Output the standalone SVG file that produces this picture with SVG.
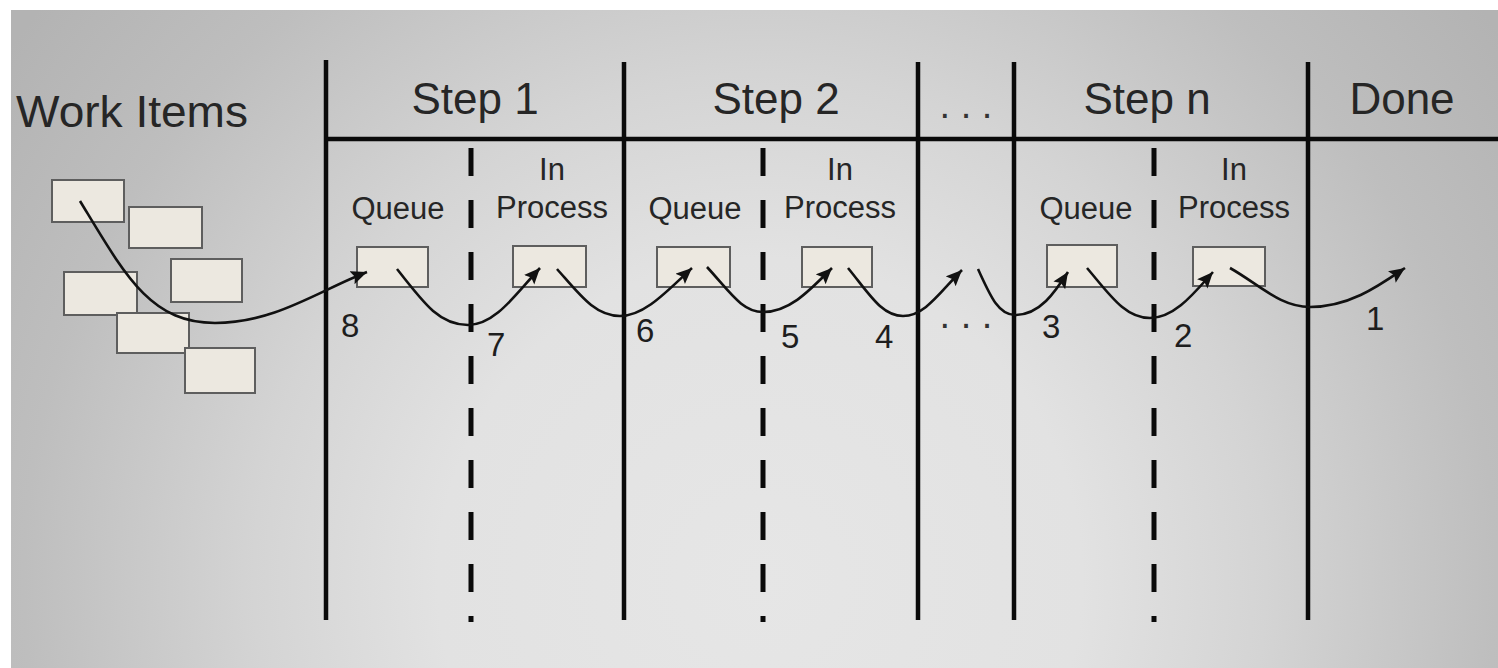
<svg xmlns="http://www.w3.org/2000/svg" width="1498" height="668" viewBox="0 0 1498 668">
<defs>
<radialGradient id="bg" gradientUnits="userSpaceOnUse" cx="760" cy="580" r="920">
<stop offset="0" stop-color="#e6e6e6"/>
<stop offset="0.35" stop-color="#e2e2e2"/>
<stop offset="0.55" stop-color="#d4d4d4"/>
<stop offset="0.8" stop-color="#bebebe"/>
<stop offset="1" stop-color="#b3b3b3"/>
</radialGradient>
<marker id="arr" markerUnits="userSpaceOnUse" markerWidth="20" markerHeight="16" refX="16" refY="7" orient="auto">
<path d="M0,0 L16,7 L0,14 L3,7 z" fill="#111"/>
</marker>
<style>
.ln{stroke:#0a0a0a;stroke-width:4.5;fill:none}
.dl{stroke:#0a0a0a;stroke-width:5;fill:none;stroke-dasharray:28 24}
.box{fill:#ece8e0;stroke:#5e5e5e;stroke-width:2}
.cv{fill:none;stroke:#111;stroke-width:2.6;marker-end:url(#arr)}
.hd{font-family:"Liberation Sans",Arial,sans-serif;font-size:44px;fill:#262626}
.sb{font-family:"Liberation Sans",Arial,sans-serif;font-size:31px;fill:#262626;text-anchor:middle}
.nm{font-family:"Liberation Sans",Arial,sans-serif;font-size:33px;fill:#1e1e1e}
.dt{font-family:"Liberation Sans",Arial,sans-serif;font-size:38px;fill:#333;text-anchor:middle}
</style>
</defs>
<rect x="0" y="0" width="1498" height="668" fill="#ffffff"/>
<rect x="11" y="10" width="1487" height="658" fill="url(#bg)"/>

<g id="grid">
<line class="ln" x1="324" y1="139" x2="1498" y2="139"/>
<line class="ln" x1="326" y1="60" x2="326" y2="620"/>
<line class="ln" x1="624" y1="62" x2="624" y2="620"/>
<line class="ln" x1="918" y1="62" x2="918" y2="620"/>
<line class="ln" x1="1014" y1="62" x2="1014" y2="620"/>
<line class="ln" x1="1308" y1="62" x2="1308" y2="620"/>
<line class="dl" x1="471" y1="148" x2="471" y2="622"/>
<line class="dl" x1="763" y1="148" x2="763" y2="622"/>
<line class="dl" x1="1154" y1="148" x2="1154" y2="622"/>
</g>

<g id="headers">
<text class="hd" x="16" y="127" font-size="46" textLength="232" lengthAdjust="spacingAndGlyphs">Work Items</text>
<text class="hd" x="475" y="114" text-anchor="middle">Step 1</text>
<text class="hd" x="776" y="114" text-anchor="middle">Step 2</text>
<text class="dt" x="966" y="118">. . .</text>
<text class="hd" x="1147" y="114" text-anchor="middle">Step n</text>
<text class="hd" x="1402" y="114" text-anchor="middle">Done</text>
</g>

<g id="sublabels">
<text class="sb" x="398" y="219">Queue</text>
<text class="sb" x="552" y="180">In</text>
<text class="sb" x="552" y="218">Process</text>
<text class="sb" x="695" y="219">Queue</text>
<text class="sb" x="840" y="180">In</text>
<text class="sb" x="840" y="218">Process</text>
<text class="sb" x="1086" y="219">Queue</text>
<text class="sb" x="1234" y="180">In</text>
<text class="sb" x="1234" y="218">Process</text>
</g>

<g id="work-items">
<rect class="box" x="52" y="180" width="72" height="42"/>
<rect class="box" x="129" y="207" width="73" height="41"/>
<rect class="box" x="171" y="259" width="71" height="43"/>
<rect class="box" x="64" y="272" width="73" height="43"/>
<rect class="box" x="117" y="313" width="72" height="40"/>
<rect class="box" x="185" y="348" width="70" height="45"/>
</g>

<g id="step1-queue"><rect class="box" x="357" y="247" width="71" height="40"/></g>
<g id="step1-inprocess"><rect class="box" x="513" y="246" width="73" height="41"/></g>
<g id="step2-queue"><rect class="box" x="657" y="247" width="73" height="40"/></g>
<g id="step2-inprocess"><rect class="box" x="802" y="247" width="70" height="40"/></g>
<g id="stepn-queue"><rect class="box" x="1047" y="245" width="70" height="42"/></g>
<g id="stepn-inprocess"><rect class="box" x="1193" y="247" width="72" height="39"/></g>

<g id="connectors">
<path class="cv" d="M80,201 C125,275 150,323 215,323 C275,323 320,290 367,272"/>
<path class="cv" d="M397,269 C425,305 440,325 468,325 C495,325 515,295 540,268"/>
<path class="cv" d="M557,269 C580,295 595,316 620,316 C645,316 668,290 692,268"/>
<path class="cv" d="M707,267 C730,292 742,312 763,312 C790,312 810,290 832,268"/>
<path class="cv" d="M848,268 C870,295 882,316 903,316 C925,316 940,292 962,270"/>
<path class="cv" d="M978,269 C990,295 998,315 1015,315 C1040,315 1055,292 1068,272"/>
<path class="cv" d="M1087,268 C1110,295 1125,318 1150,318 C1175,318 1195,292 1213,272"/>
<path class="cv" d="M1230,268 C1260,285 1280,307 1310,307 C1350,307 1380,285 1405,268"/>
</g>

<g id="numbers">
<text class="nm" x="341" y="337">8</text>
<text class="nm" x="487" y="356">7</text>
<text class="nm" x="636" y="342">6</text>
<text class="nm" x="781" y="348">5</text>
<text class="nm" x="875" y="348">4</text>
<text class="dt" x="966" y="328">. . .</text>
<text class="nm" x="1042" y="338">3</text>
<text class="nm" x="1174" y="347">2</text>
<text class="nm" x="1366" y="330">1</text>
</g>
</svg>
